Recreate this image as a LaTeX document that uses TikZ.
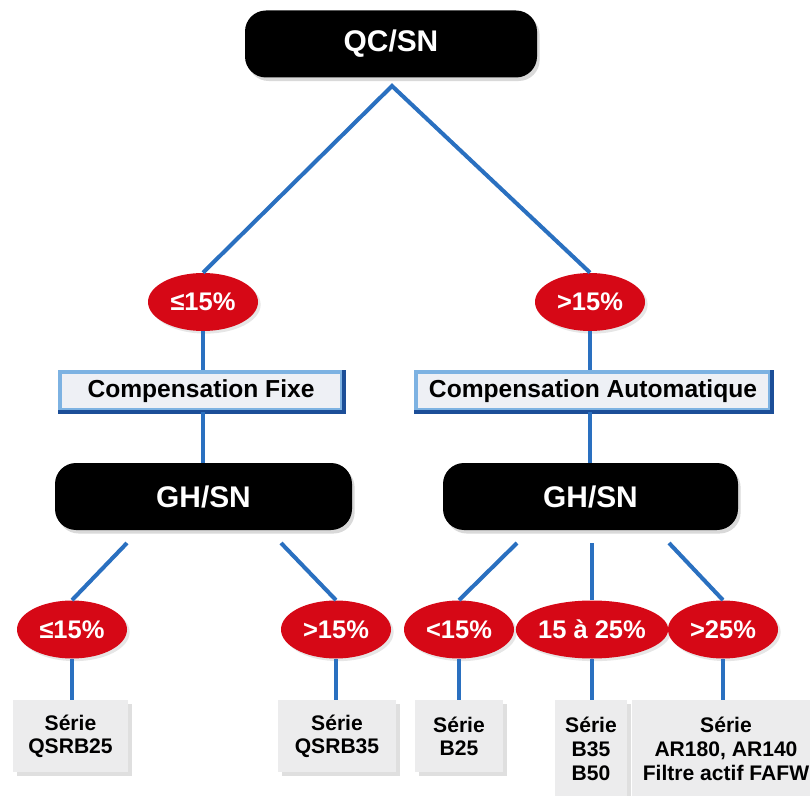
\documentclass[tikz,border=0pt]{standalone}
\usepackage{fontspec}
\setmainfont{Liberation Sans}
\usetikzlibrary{shapes.geometric,shadows}

\definecolor{ovalred}{RGB}{214,8,22}
\definecolor{linkblue}{RGB}{42,112,192}
\definecolor{lightblue}{RGB}{125,178,226}
\definecolor{darkblue}{RGB}{28,78,152}
\definecolor{boxgray}{RGB}{236,236,237}
\definecolor{compgray}{RGB}{238,240,245}

\begin{document}
\begin{tikzpicture}[
    blackbox/.style={fill=black, rounded corners=0.42cm, text=white,
        minimum height=1.34cm, font=\fontsize{17}{20}\selectfont\bfseries,
        drop shadow={shadow xshift=1.5pt, shadow yshift=-2pt, opacity=0.3}},
    oval/.style={ellipse, fill=ovalred, text=white, inner sep=0pt,
        minimum width=2.2cm, minimum height=1.16cm,
        font=\fontsize{14.5}{17}\selectfont\bfseries,
        drop shadow={shadow xshift=1.5pt, shadow yshift=-1.5pt, opacity=0.2}},
    compbox/.style={fill=compgray, draw=lightblue, line width=2.2pt,
        minimum height=0.76cm, font=\fontsize{14}{16}\selectfont\bfseries},
    seriebox/.style={anchor=north, fill=boxgray, align=center, inner sep=0pt,
        minimum height=1.44cm, font=\fontsize{12}{13.6}\selectfont\bfseries,
        drop shadow={shadow xshift=2pt, shadow yshift=-2pt, opacity=0.25}},
    link/.style={draw=linkblue, line width=2.3pt}
]
    \useasboundingbox (0,0) rectangle (16.2,15.9);
    \clip (0,0) rectangle (16.2,15.9);

    % top level
    \node[blackbox, minimum width=5.84cm] (qc) at (7.82,15.02) {QC/SN};
    \coordinate (qcfork) at (7.84,14.18);

    \node[oval] (lo1) at (4.06,9.86) {≤15\%};
    \node[oval] (hi1) at (11.80,9.86) {>15\%};

    \node[compbox, minimum width=5.64cm] (fixe) at (4.02,8.08) {Compensation Fixe};
    \node[compbox, minimum width=7.08cm] (auto) at (11.86,8.08) {Compensation Automatique};
    \draw[darkblue, line width=2.2pt] (fixe.north east) -- (fixe.south east) -- (fixe.south west);
    \draw[darkblue, line width=2.2pt] (auto.north east) -- (auto.south east) -- (auto.south west);

    \node[blackbox, minimum width=5.94cm] (gh1) at (4.07,5.97) {GH/SN};
    \node[blackbox, minimum width=5.9cm] (gh2) at (11.81,5.97) {GH/SN};

    \coordinate (gh1a) at (2.54,5.04);
    \coordinate (gh1b) at (5.62,5.04);
    \coordinate (gh2a) at (10.34,5.04);
    \coordinate (gh2b) at (11.84,5.04);
    \coordinate (gh2c) at (13.38,5.04);

    % bottom level
    \node[oval] (o1) at (1.44,3.31) {≤15\%};
    \node[oval] (o2) at (6.72,3.31) {>15\%};
    \node[oval] (o3) at (9.18,3.31) {<15\%};
    \node[oval, minimum width=2.75cm] (o4) at (11.84,3.31) {15 à 25\%};
    \node[oval] (o5) at (14.46,3.31) {>25\%};

    \node[seriebox, minimum width=2.3cm] (s1) at (1.41,1.90) {Série\\QSRB25};
    \node[seriebox, minimum width=2.36cm] (s2) at (6.74,1.90) {Série\\QSRB35};
    \node[seriebox, minimum width=1.76cm] (s3) at (9.18,1.90) {Série\\B25};
    \node[seriebox, minimum width=1.44cm, minimum height=1.95cm] (s4) at (11.82,1.90) {Série\\B35\\B50};
    \node[seriebox, minimum width=3.76cm, minimum height=1.95cm] (s5) at (14.52,1.90) {Série\\AR180, AR140\\Filtre actif FAFW};

    % connectors
    \draw[link] (lo1.north) -- (qcfork) -- (hi1.north);
    \draw[link] (lo1.south) -- (lo1 |- fixe.north);
    \draw[link] (lo1 |- fixe.south) -- (lo1 |- gh1.north);
    \draw[link] (hi1.south) -- (hi1 |- auto.north);
    \draw[link] (hi1 |- auto.south) -- (hi1 |- gh2.north);
    \draw[link] (gh1a) -- (o1.north);
    \draw[link] (gh1b) -- (o2.north);
    \draw[link] (gh2a) -- (o3.north);
    \draw[link] (gh2b) -- (o4.north);
    \draw[link] (gh2c) -- (o5.north);
    \draw[link] (o1.south) -- (o1 |- s1.north);
    \draw[link] (o2.south) -- (o2 |- s2.north);
    \draw[link] (o3.south) -- (o3 |- s3.north);
    \draw[link] (o4.south) -- (o4 |- s4.north);
    \draw[link] (o5.south) -- (o5 |- s5.north);
\end{tikzpicture}
\end{document}
